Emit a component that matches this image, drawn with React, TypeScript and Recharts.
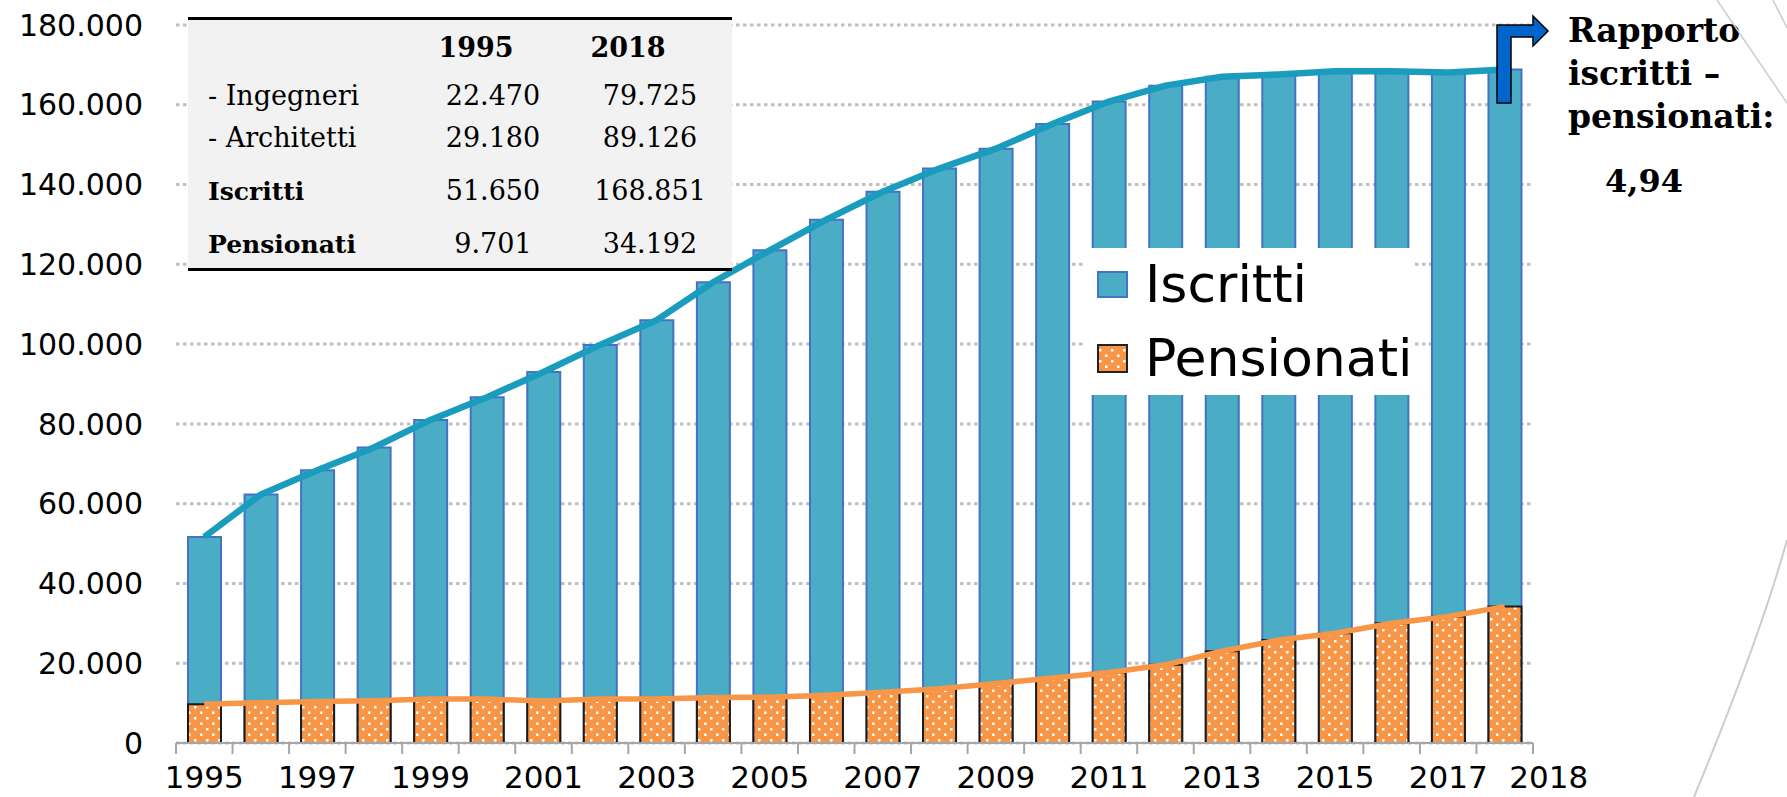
import React from "react";
import {
  ComposedChart,
  Bar,
  Line,
  XAxis,
  YAxis,
  CartesianGrid,
  Legend,
} from "recharts";

// anni, iscritti e pensionati
const years = [
  "1995", "1996", "1997", "1998", "1999", "2000", "2001", "2002",
  "2003", "2004", "2005", "2006", "2007", "2008", "2009", "2010",
  "2011", "2012", "2013", "2014", "2015", "2016", "2017", "2018",
];
const iscritti = [
  51650, 62300, 68400, 74100, 81000, 86700, 93000, 99800,
  106000, 115500, 123500, 131200, 138200, 144000, 149000, 155200,
  160800, 164800, 167000, 167600, 168400, 168400, 168100, 168851,
];
const pensionati = [
  9701, 10100, 10400, 10600, 11000, 11000, 10500, 11000,
  11000, 11400, 11500, 12000, 12700, 13600, 14900, 16300,
  17700, 19600, 23000, 25800, 27500, 30000, 31700, 34192,
];
const yTicks = [0, 20000, 40000, 60000, 80000, 100000, 120000, 140000, 160000, 180000];
const xLabels = ["1995", "1997", "1999", "2001", "2003", "2005", "2007", "2009", "2011", "2013", "2015", "2017", "2018"];

// tabella in alto a sinistra
const tableHead = ["1995", "2018"];
const tableRows = [
  { label: "- Ingegneri", v1995: "22.470", v2018: "79.725", bold: false },
  { label: "- Architetti", v1995: "29.180", v2018: "89.126", bold: false },
  { label: "Iscritti", v1995: "51.650", v2018: "168.851", bold: true },
  { label: "Pensionati", v1995: "9.701", v2018: "34.192", bold: true },
];
const ratioLines = ["Rapporto", "iscritti –", "pensionati:"];
const ratioValue = "4,94";

const data = years.map((y, i) => ({
  year: y,
  iscritti: iscritti[i],
  pensionati: pensionati[i],
}));

const fmt = (v: number) => String(v).replace(/\B(?=(\d{3})+(?!\d))/g, ".");

const TEAL = "#4BACC6";
const TEAL_LINE = "#199CBE";
const ORANGE = "#F79646";

const YearTick = (props: any) => {
  const { x, y, payload, index } = props;
  const half = payload && payload.offset > 0 ? payload.offset : 28.27;
  const axisY = y - 23;
  const last = index === years.length - 1;
  const show = xLabels.includes(payload.value);
  return (
    <g>
      <line x1={x - half} x2={x - half} y1={axisY} y2={axisY + 11} stroke="#A6A6A6" strokeWidth={2} />
      {last && <line x1={x + half} x2={x + half} y1={axisY} y2={axisY + 11} stroke="#A6A6A6" strokeWidth={2} />}
      {show && (
        <text
          x={x + (last ? 44 : 0)}
          y={y}
          dy="0.71em"
          textAnchor="middle"
          fontSize={31}
          fontFamily="DejaVu Sans"
          fill="#000"
        >
          {payload.value}
        </text>
      )}
    </g>
  );
};

const LegendBox = () => (
  <div style={{ position: "relative", width: 330, height: 147, background: "#fff", fontFamily: "DejaVu Sans" }}>
    <svg width={32} height={130} style={{ position: "absolute", left: 12, top: 22 }}>
      <rect x={1} y={2} width={29} height={25} fill={TEAL} stroke="#4472C4" strokeWidth={2} />
      <rect x={1} y={75} width={29} height={27} fill="url(#dots)" stroke="#222" strokeWidth={2} />
    </svg>
    <div style={{ position: "absolute", left: 60, top: 6, fontSize: 52, lineHeight: "60px" }}>Iscritti</div>
    <div style={{ position: "absolute", left: 60, top: 80, fontSize: 52, lineHeight: "60px" }}>Pensionati</div>
  </div>
);

export default function App() {
  return (
    <div style={{ position: "absolute", left: 0, top: 0, width: 1787, height: 797, background: "#fff" }}>
      <svg width={0} height={0} style={{ position: "absolute" }}>
        <defs>
          <pattern id="dots" width={12} height={11} patternUnits="userSpaceOnUse">
            <rect width={12} height={11} fill={ORANGE} />
            <rect x={2} y={2} width={2.5} height={2.5} fill="#fff" />
            <rect x={8} y={7.5} width={2.5} height={2.5} fill="#fff" />
          </pattern>
        </defs>
      </svg>
      <ComposedChart
        width={1787}
        height={797}
        data={data}
        margin={{ top: 25, right: 254, bottom: 0, left: 0 }}
        style={{ fontFamily: "DejaVu Sans" }}
      >
        <CartesianGrid vertical={false} stroke="#BFBFBF" strokeWidth={3} strokeDasharray="3.5 3.5" />
        <XAxis
          xAxisId="a"
          dataKey="year"
          height={54}
          interval={0}
          tickLine={false}
          tickSize={0}
          tickMargin={23}
          axisLine={{ stroke: "#A6A6A6", strokeWidth: 2 }}
          tick={<YearTick />}
        />
        <XAxis xAxisId="b" dataKey="year" hide />
        <YAxis
          width={176}
          domain={[0, 180000]}
          ticks={yTicks}
          axisLine={false}
          tickLine={false}
          tickSize={0}
          tickMargin={33}
          tickFormatter={fmt}
          tick={{ fontSize: 30, fill: "#000", fontFamily: "DejaVu Sans" }}
        />
        <Bar xAxisId="a" dataKey="iscritti" name="Iscritti" barSize={33} fill={TEAL} stroke="#4472C4" strokeWidth={2} isAnimationActive={false} />
        <Bar xAxisId="b" dataKey="pensionati" name="Pensionati" barSize={33} fill="url(#dots)" stroke="#1a1a1a" strokeWidth={2} isAnimationActive={false} />
        <Line xAxisId="a" dataKey="iscritti" type="linear" stroke={TEAL_LINE} strokeWidth={6.5} dot={false} legendType="none" isAnimationActive={false} />
        <Line xAxisId="a" dataKey="pensionati" type="linear" stroke={ORANGE} strokeWidth={5.5} dot={false} legendType="none" isAnimationActive={false} />
        <Legend
          layout="vertical"
          align="center"
          verticalAlign="middle"
          wrapperStyle={{ left: 1085, top: 248, width: 330, height: 147 }}
          content={() => <LegendBox />}
        />
      </ComposedChart>
      <svg width={1787} height={797} style={{ position: "absolute", left: 0, top: 0, pointerEvents: "none" }}>
        {/* tabella */}
        <rect x={188} y={18} width={544} height={252} fill="#F2F2F2" />
        <line x1={188} x2={732} y1={18.5} y2={18.5} stroke="#000" strokeWidth={3} />
        <line x1={188} x2={732} y1={269.5} y2={269.5} stroke="#000" strokeWidth={3} />
        <g fontFamily="DejaVu Serif" fill="#000">
          <text x={476} y={57} textAnchor="middle" fontSize={27} fontWeight="bold">{tableHead[0]}</text>
          <text x={628} y={57} textAnchor="middle" fontSize={27} fontWeight="bold">{tableHead[1]}</text>
          {tableRows.map((r, i) => {
            const yy = [105, 147, 200, 253][i];
            return (
              <g key={r.label}>
                <text x={208} y={yy} fontSize={r.bold ? 25 : 27} fontWeight={r.bold ? "bold" : "normal"}>{r.label}</text>
                <text x={493} y={yy} textAnchor="middle" fontSize={27}>{r.v1995}</text>
                <text x={650} y={yy} textAnchor="middle" fontSize={27}>{r.v2018}</text>
              </g>
            );
          })}
        </g>
        {/* freccia e rapporto */}
        <polygon
          points="1497,103 1497,25 1533,25 1533,16 1548,31 1533,46 1533,37 1511,37 1511,103"
          fill="#0066CC"
          stroke="#000"
          strokeWidth={1.5}
        />
        <g fontFamily="DejaVu Serif" fontWeight="bold" fill="#000" fontSize={33}>
          {ratioLines.map((t, i) => (
            <text key={t} x={1568} y={42 + i * 43}>{t}</text>
          ))}
          <text x={1605} y={192} fontSize={32}>{ratioValue}</text>
        </g>
        {/* linee decorative della slide */}
        <path d="M1717 0 L1787 103" stroke="#C9CED6" strokeWidth={1.5} fill="none" />
        <path d="M1773 0 L1787 28" stroke="#C9CED6" strokeWidth={1.5} fill="none" />
        <path d="M1694 797 C1730 710 1765 620 1787 540" stroke="#C9CED6" strokeWidth={2} fill="none" />
      </svg>
    </div>
  );
}
